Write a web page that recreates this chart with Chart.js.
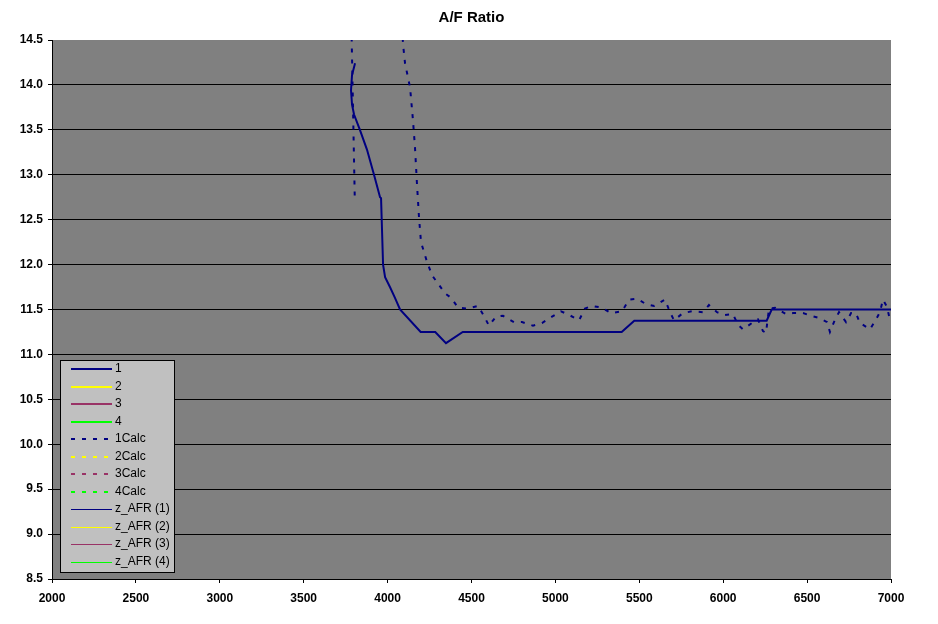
<!DOCTYPE html>
<html>
<head>
<meta charset="utf-8">
<script src="https://cdn.jsdelivr.net/npm/chart.js@4/dist/chart.umd.min.js"></script>
<style>
  body { margin: 0; background: #fff; }
  canvas { display: block; }
</style>
</head>
<body>
<canvas id="afrChart" width="938" height="624"></canvas>
<script>
// Series 1 measured A/F (rpm / ratio)
const rpm1 = [3806, 3788, 3782, 3788, 3800, 3835, 3877, 3919, 3955, 3961, 3973, 3985, 4014, 4044, 4074, 4197, 4284, 4348, 4448, 5395, 5470, 6259, 6289, 7000];
const afr1 = [14.24, 14.11, 13.94, 13.78, 13.67, 13.5, 13.28, 13.0, 12.75, 12.74, 12.0, 11.86, 11.75, 11.63, 11.5, 11.25, 11.25, 11.125, 11.25, 11.25, 11.375, 11.375, 11.5, 11.5];

// Series 1 calculated A/F (goes off the top of the chart between the two branches)
const rpmCalc1 = [3804, 3786, 3782, 3850, 4000, 4095, 4104, 4134, 4151, 4163, 4175, 4187, 4199, 4235, 4265, 4300, 4342, 4378, 4420, 4473, 4539, 4574, 4604, 4646, 4688, 4753, 4801, 4866, 4920, 4980, 5033, 5081, 5141, 5176, 5218, 5278, 5331, 5397, 5439, 5486, 5540, 5588, 5653, 5683, 5707, 5760, 5814, 5880, 5915, 5963, 6011, 6058, 6088, 6118, 6172, 6207, 6237, 6255, 6273, 6309, 6374, 6416, 6476, 6523, 6565, 6619, 6636, 6660, 6690, 6732, 6762, 6791, 6815, 6875, 6911, 6934, 6952, 6976, 6994];
const afrCalc1 = [12.77, 14.5, 15.0, 16.5, 16.5, 14.4, 14.24, 13.97, 13.61, 13.31, 12.9, 12.53, 12.25, 12.03, 11.88, 11.79, 11.68, 11.63, 11.52, 11.51, 11.54, 11.43, 11.32, 11.42, 11.43, 11.36, 11.36, 11.32, 11.35, 11.42, 11.48, 11.44, 11.38, 11.51, 11.54, 11.52, 11.46, 11.48, 11.61, 11.62, 11.56, 11.54, 11.61, 11.47, 11.38, 11.46, 11.48, 11.47, 11.55, 11.47, 11.44, 11.45, 11.33, 11.28, 11.35, 11.39, 11.26, 11.24, 11.51, 11.52, 11.45, 11.46, 11.46, 11.43, 11.41, 11.36, 11.25, 11.36, 11.47, 11.36, 11.46, 11.46, 11.35, 11.28, 11.39, 11.47, 11.61, 11.53, 11.38];

const seriesNames = ['1', '2', '3', '4', '1Calc', '2Calc', '3Calc', '4Calc', 'z_AFR (1)', 'z_AFR (2)', 'z_AFR (3)', 'z_AFR (4)'];
const seriesColours = ['#000080', '#FFFF00', '#993366', '#00FF00'];

const yTicks = [8.5, 14.5, 0.5];   // min, max, step
const xTicks = [2000, 7000, 500];

function toPoints(xs, ys) {
    return xs.map((x, i) => ({x: x, y: ys[i]}));
}

const datasets = seriesNames.map((name, i) => {
    const group = Math.floor(i / 4);
    const colour = seriesColours[i % 4];
    let data = [];
    if (i === 0) data = toPoints(rpm1, afr1);
    if (i === 4) data = toPoints(rpmCalc1, afrCalc1);
    return {
        label: name,
        data: data,
        borderColor: colour,
        backgroundColor: colour,
        borderWidth: group === 2 ? 1 : 2,
        borderDash: group === 1 ? [4, 7] : [],
        pointRadius: 0,
        tension: 0,
        fill: false,
        clip: 0
    };
});

// grey plot area + title
const plotBack = {
    id: 'plotBack',
    beforeDraw(chart) {
        const {ctx, chartArea: a} = chart;
        ctx.save();
        ctx.fillStyle = '#808080';
        ctx.fillRect(a.left, a.top, a.right - a.left, a.bottom - a.top);
        ctx.fillStyle = '#000';
        ctx.font = 'bold 15px "Liberation Sans", Arial, sans-serif';
        ctx.textAlign = 'center';
        ctx.textBaseline = 'middle';
        ctx.fillText('A/F Ratio', (a.left + a.right) / 2, 18);
        ctx.restore();
    }
};

// Excel style legend box inside the plot
const boxLegend = {
    id: 'boxLegend',
    afterDraw(chart) {
        const ctx = chart.ctx;
        const left = 60, top = 360, w = 114, h = 212;
        ctx.save();
        ctx.fillStyle = '#C0C0C0';
        ctx.fillRect(left, top, w, h);
        ctx.strokeStyle = '#000';
        ctx.lineWidth = 1;
        ctx.strokeRect(left + 0.5, top + 0.5, w, h);
        ctx.font = '12px "Liberation Sans", Arial, sans-serif';
        ctx.textBaseline = 'middle';
        chart.data.datasets.forEach((ds, i) => {
            const y = Math.round(369 + i * 17.5);
            ctx.beginPath();
            ctx.strokeStyle = ds.borderColor;
            ctx.lineWidth = ds.borderWidth;
            ctx.setLineDash(ds.borderDash);
            const off = ds.borderWidth === 1 ? 0.5 : 0;
            ctx.moveTo(71, y + off);
            ctx.lineTo(112, y + off);
            ctx.stroke();
            ctx.setLineDash([]);
            ctx.fillStyle = '#000';
            ctx.fillText(ds.label, 115, y);
        });
        ctx.restore();
    }
};

const tickFont = {family: '"Liberation Sans", Arial, sans-serif', size: 12, weight: 'bold'};

const afrChart = new Chart(document.getElementById('afrChart').getContext('2d'), {
    type: 'line',
    data: {datasets: datasets},
    options: {
        responsive: false,
        animation: false,
        devicePixelRatio: 1,
        layout: {padding: {top: 40, right: 47, left: 0, bottom: 0}},
        plugins: {
            legend: {display: false},
            title: {display: false},
            tooltip: {enabled: false}
        },
        scales: {
            x: {
                type: 'linear',
                min: xTicks[0],
                max: xTicks[1],
                ticks: {stepSize: xTicks[2], color: '#000', font: tickFont, padding: 8, maxRotation: 0, autoSkip: false,
                    callback: v => String(v)},
                grid: {drawOnChartArea: false, tickLength: 4, color: '#000'},
                border: {color: '#000', width: 1},
                afterFit: s => { s.height = 45; }
            },
            y: {
                min: yTicks[0],
                max: yTicks[1],
                ticks: {stepSize: yTicks[2], color: '#000', font: tickFont, padding: 5, autoSkip: false,
                    callback: v => v.toFixed(1)},
                grid: {
                    color: c => (c.tick && c.tick.value === yTicks[1]) ? 'rgba(0,0,0,0)' : '#000',
                    tickColor: '#000',
                    tickLength: 4
                },
                border: {color: '#000', width: 1},
                afterFit: s => { s.width = 52; }
            }
        }
    },
    plugins: [plotBack, boxLegend]
});
</script>
</body>
</html>
